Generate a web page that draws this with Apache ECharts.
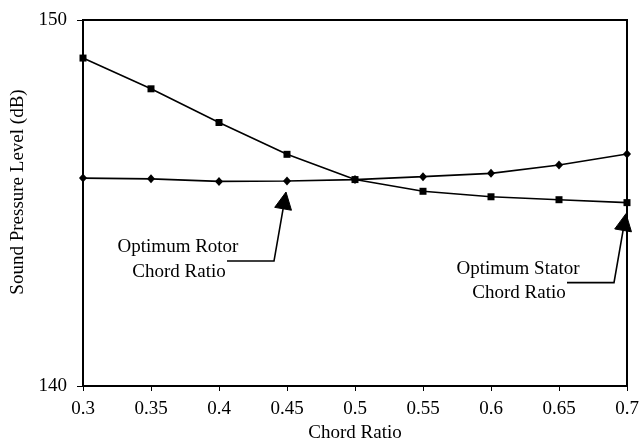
<!DOCTYPE html>
<html>
<head>
<meta charset="utf-8">
<script src="https://cdn.jsdelivr.net/npm/echarts@6/dist/echarts.min.js"></script>
<style>
  html, body { margin: 0; padding: 0; background: #fff; }
  #chart { width: 640px; height: 443px; }
</style>
</head>
<body>
<div id="chart"></div>
<script>
// Chord ratio sweep
const chordRatios = [0.3, 0.35, 0.4, 0.45, 0.5, 0.55, 0.6, 0.65, 0.7];
// SPL (dB) when the rotor chord ratio is varied (diamonds)
const rotorSpl = [145.68, 145.66, 145.59, 145.60, 145.64, 145.72, 145.81, 146.04, 146.34];
// SPL (dB) when the stator chord ratio is varied (squares)
const statorSpl = [148.96, 148.12, 147.20, 146.33, 145.64, 145.32, 145.17, 145.09, 145.01];
const xTicks = [0.3, 0.35, 0.4, 0.45, 0.5, 0.55, 0.6, 0.65, 0.7];
const yTicks = [140, 150];

// Callouts pointing at the optimum of each sweep
const callouts = [
  { lines: ['Optimum Rotor', 'Chord Ratio'], x: 0.45, y: rotorSpl[3] },
  { lines: ['Optimum Stator', 'Chord Ratio'], x: 0.7, y: statorSpl[8] }
];

const FONT = '"Liberation Serif", "Times New Roman", serif';
const FS = 19;
const chart = echarts.init(document.getElementById('chart'), null, { renderer: 'canvas' });

const pairs = arr => chordRatios.map((c, i) => [c, arr[i]]);

chart.setOption({
  animation: false,
  backgroundColor: '#fff',
  grid: {
    left: 83, right: 13, top: 20, bottom: 57,
    outerBoundsMode: 'none', containLabel: false,
    show: true, borderColor: '#000', borderWidth: 2, backgroundColor: 'transparent'
  },
  xAxis: {
    type: 'value', min: 0.3, max: 0.7, interval: 0.05,
    name: 'Chord Ratio', nameLocation: 'middle', nameGap: 35,
    nameTextStyle: { fontFamily: FONT, fontSize: FS, color: '#000' },
    axisLine: { lineStyle: { color: '#000', width: 2 } },
    axisTick: { show: true, length: 5, lineStyle: { color: '#000', width: 1 } },
    axisLabel: {
      fontFamily: FONT, fontSize: FS, color: '#000', margin: 14,
      formatter: v => {
        const t = xTicks.find(k => Math.abs(k - v) < 1e-6);
        return t === undefined ? '' : String(t);
      }
    },
    splitLine: { show: false }
  },
  yAxis: {
    type: 'value', min: 140, max: 150, interval: 10,
    name: 'Sound Pressure Level (dB)', nameLocation: 'middle', nameGap: 54,
    nameTextStyle: { fontFamily: FONT, fontSize: FS, color: '#000', padding: [0, 0, 0, 22] },
    axisLine: { lineStyle: { color: '#000', width: 2 } },
    axisTick: { show: true, length: 6, lineStyle: { color: '#000', width: 1 } },
    axisLabel: {
      fontFamily: FONT, fontSize: FS, color: '#000', margin: 16,
      formatter: v => (yTicks.includes(v) ? String(v) : '')
    },
    splitLine: { show: false }
  },
  series: [
    {
      name: 'Rotor', type: 'line', data: pairs(rotorSpl),
      symbol: 'diamond', symbolSize: [8, 9], showAllSymbol: true,
      lineStyle: { color: '#000', width: 1.6 },
      itemStyle: { color: '#000', borderWidth: 0 }
    },
    {
      name: 'Stator', type: 'line', data: pairs(statorSpl),
      symbol: 'rect', symbolSize: 7, showAllSymbol: true,
      lineStyle: { color: '#000', width: 1.6 },
      itemStyle: { color: '#000', borderWidth: 0 }
    }
  ]
});

// Build the callout arrows and captions from the data point each one marks
function drawCallouts() {
  const elements = [];
  callouts.forEach(c => {
    const [px, py] = chart.convertToPixel({ gridIndex: 0 }, [c.x, c.y]);
    const tip = [px - 1, py + 11];
    const knee = [px - 13, py + 80];
    const start = [px - 60, py + 80];
    const dx = tip[0] - knee[0], dy = tip[1] - knee[1];
    const len = Math.hypot(dx, dy);
    const ux = dx / len, uy = dy / len;
    const headLen = 17, halfW = 8.5;
    const base = [tip[0] - ux * headLen, tip[1] - uy * headLen];
    elements.push({
      type: 'polyline',
      shape: { points: [start, knee, [base[0] + ux * 2, base[1] + uy * 2]] },
      style: { stroke: '#000', lineWidth: 1.6, fill: null }
    });
    elements.push({
      type: 'polygon',
      shape: { points: [tip, [base[0] - uy * halfW, base[1] + ux * halfW], [base[0] + uy * halfW, base[1] - ux * halfW]] },
      style: { fill: '#000', stroke: '#000', lineWidth: 1 }
    });
    c.lines.forEach((line, i) => {
      elements.push({
        type: 'text',
        x: px - 109 + i, y: py + 66 + i * 24.5,
        style: {
          text: line, font: FS + 'px ' + FONT, fill: '#000',
          align: 'center', verticalAlign: 'middle'
        }
      });
    });
  });
  chart.setOption({ graphic: { elements } });
}
drawCallouts();
</script>
</body>
</html>
